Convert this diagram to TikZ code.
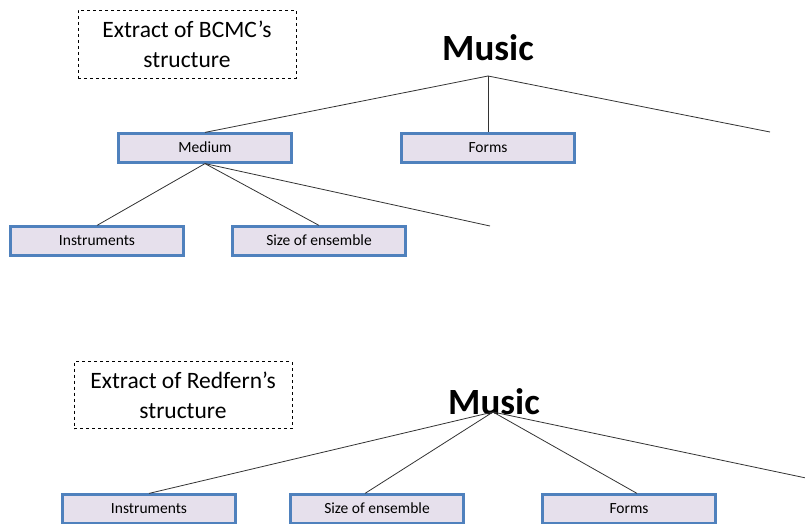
\documentclass[tikz,border=0pt]{standalone}
\usepackage{fontspec}
\setmainfont{Carlito}
\usepackage{tikz}
\usetikzlibrary{positioning}
\definecolor{boxfill}{HTML}{E6E0EC}
\definecolor{boxline}{HTML}{4F81BD}
\newcommand{\boxw}{173pt}
\newcommand{\boxh}{29pt}

\begin{document}
\begin{tikzpicture}[x=1pt,y=-1pt]
    \tikzset{
        leaf/.style = {draw=boxline, fill=boxfill, line width=2.2pt, minimum width=\boxw, minimum height=\boxh, inner sep=0pt, text height=11pt, text depth=3pt, font=\fontsize{15.5}{17}\selectfont},
        title/.style = {font=\fontsize{37}{40}\selectfont\bfseries, inner sep=0pt},
        note/.style = {draw, dashed, thick, minimum width=218pt, align=center, inner sep=0pt, font=\fontsize{23.5}{30}\selectfont},
        link/.style = {draw=black!80, line width=0.8pt}
    }
    \useasboundingbox (0,0) rectangle (805,524);
    \begin{scope}
        \clip (0,0) rectangle (805,524);
        % upper tree
        \node[note, minimum height=68pt] (note1) at (187,44) {Extract of BCMC's\\structure};
        \node[title] (music1) at (488,48) {Music};
        \coordinate (hub1) at (488,76);
        \node[leaf] (medium1) at (205,148) {Medium};
        \node[leaf] (forms1) at (488,148) {Forms};
        \coordinate (more1) at (770,132);
        \node[leaf] (instr1) at (97,241) {Instruments};
        \node[leaf] (size1) at (319,241) {Size of ensemble};
        \coordinate (more2) at (490,226);
        \draw[link] (hub1) -- (medium1.north);
        \draw[link] (hub1) -- (forms1.north);
        \draw[link] (hub1) -- (more1);
        \draw[link] (medium1.south) -- (instr1.north);
        \draw[link] (medium1.south) -- (size1.north);
        \draw[link] (medium1.south) -- (more2);
        % lower tree
        \node[note, minimum height=67pt] (note2) at (183,395) {Extract of Redfern's\\structure};
        \node[title] (music2) at (494,402) {Music};
        \coordinate (hub2) at (493,412);
        \node[leaf] (instr2) at (149,509) {Instruments};
        \node[leaf] (size2) at (377,509) {Size of ensemble};
        \node[leaf] (forms2) at (629,509) {Forms};
        \coordinate (more3) at (806,478);
        \draw[link] (hub2) -- (instr2.north);
        \draw[link] (hub2) -- ([xshift=-12pt]size2.north);
        \draw[link] (hub2) -- ([xshift=8pt]forms2.north);
        \draw[link] (hub2) -- (more3);
    \end{scope}
\end{tikzpicture}
\end{document}
